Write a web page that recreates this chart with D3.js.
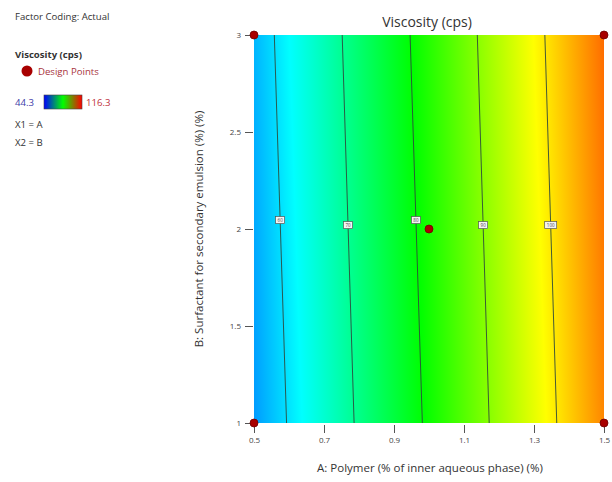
<!DOCTYPE html>
<html>
<head>
<meta charset="utf-8">
<script src="https://cdn.jsdelivr.net/npm/d3@7"></script>
<style>
  body { margin: 0; background: #fff; }
  svg text { font-family: "Open Sans", "Noto Sans", sans-serif; }
</style>
</head>
<body>
<div id="chart"></div>
<script>
// contour levels and where each line meets the top (B = 3) and bottom (B = 1) edge
const levels = [60, 70, 80, 90, 100];
const levelAtTop = [0.558, 0.752, 0.946, 1.138, 1.331];
const levelAtBottom = [0.593, 0.786, 0.981, 1.172, 1.365];
const labelB = [2.046, 2.02, 2.046, 2.02, 2.02];

// estimated surface values at the corners: [A, B, viscosity]
const cornerValues = [[0.5, 1, 55.2], [1.5, 1, 106.8], [0.5, 3, 57.1], [1.5, 3, 108.7]];

// design points
const designA = [0.5, 1.5, 0.5, 1.5, 1.0];
const designB = [1, 1, 3, 3, 2];

const colorMin = 44.3, colorMax = 116.3;
const xTicks = [0.5, 0.7, 0.9, 1.1, 1.3, 1.5];
const yTicks = [1, 1.5, 2, 2.5, 3];

const width = 612, height = 482;
const svg = d3.select("#chart").append("svg")
    .attr("width", width)
    .attr("height", height);

const x = d3.scaleLinear().domain([0.5, 1.5]).range([254, 604]);
const y = d3.scaleLinear().domain([1, 3]).range([423, 35]);

// rainbow used for the surface
const color = d3.scaleLinear()
    .domain(d3.range(5).map(i => colorMin + i * (colorMax - colorMin) / 4))
    .range(["#0000ff", "#00ffff", "#00ff00", "#ffff00", "#ff0000"]);

// linear gradient along the surface slope (surface is close to a plane)
const p00 = cornerValues[0], p10 = cornerValues[1], p01 = cornerValues[2];
const gx = (p10[2] - p00[2]) / (x(p10[0]) - x(p00[0]));
const gy = (p01[2] - p00[2]) / (y(p01[1]) - y(p00[1]));
const g2 = gx * gx + gy * gy;
const ox = x(p00[0]), oy = y(p00[1]);
const t0 = (colorMin - p00[2]) / g2, t1 = (colorMax - p00[2]) / g2;

const defs = svg.append("defs");
const grad = defs.append("linearGradient")
    .attr("id", "surf")
    .attr("gradientUnits", "userSpaceOnUse")
    .attr("x1", ox + t0 * gx).attr("y1", oy + t0 * gy)
    .attr("x2", ox + t1 * gx).attr("y2", oy + t1 * gy);
d3.range(0, 1.0001, 0.05).forEach(t => {
    grad.append("stop")
        .attr("offset", t)
        .attr("stop-color", color(colorMin + t * (colorMax - colorMin)));
});

svg.append("rect")
    .attr("x", x(0.5)).attr("y", y(3))
    .attr("width", x(1.5) - x(0.5))
    .attr("height", y(1) - y(3))
    .attr("fill", "url(#surf)");

// contour lines
svg.append("g")
    .selectAll("line")
    .data(levels)
    .join("line")
    .attr("x1", (d, i) => x(levelAtBottom[i]))
    .attr("y1", y(1))
    .attr("x2", (d, i) => x(levelAtTop[i]))
    .attr("y2", y(3))
    .attr("stroke", "#2e4a3c")
    .attr("stroke-width", 0.9);

// contour labels
const lab = svg.append("g")
    .selectAll("g")
    .data(levels)
    .join("g")
    .attr("transform", (d, i) => {
        const b = labelB[i];
        const a = levelAtBottom[i] + (levelAtTop[i] - levelAtBottom[i]) * (b - 1) / 2;
        return `translate(${x(a)},${y(b)})`;
    });
lab.append("rect")
    .attr("x", d => d >= 100 ? -6 : -4.5)
    .attr("y", -3.5)
    .attr("width", d => d >= 100 ? 12 : 9)
    .attr("height", 7)
    .attr("fill", "#f4f4f4")
    .attr("stroke", "#555")
    .attr("stroke-width", 0.7);
lab.append("text")
    .attr("text-anchor", "middle")
    .attr("dy", "0.35em")
    .attr("font-size", 4.5)
    .attr("fill", "#444")
    .text(d => d);

// axes
const xAxis = svg.append("g")
    .attr("transform", `translate(0,${y(1) + 2})`)
    .call(d3.axisBottom(x).tickValues(xTicks).tickSize(8).tickPadding(4).tickFormat(d3.format("")));
const yAxis = svg.append("g")
    .attr("transform", `translate(${x(0.5) - 1},0)`)
    .call(d3.axisLeft(y).tickValues(yTicks).tickSize(8).tickPadding(4).tickFormat(d3.format("")));
[xAxis, yAxis].forEach(g => {
    g.select(".domain").remove();
    g.selectAll(".tick line").attr("stroke", "#555");
    g.selectAll(".tick text").attr("fill", "#444").attr("font-size", 8)
        .style("font-family", "\"Open Sans\", sans-serif");
});

// design points
svg.append("g")
    .selectAll("circle")
    .data(designA)
    .join("circle")
    .attr("cx", d => x(d))
    .attr("cy", (d, i) => y(designB[i]))
    .attr("r", 4)
    .attr("fill", "#a80000")
    .attr("stroke", "#700000")
    .attr("stroke-width", 0.8);

// titles
svg.append("text")
    .attr("x", 427).attr("y", 27)
    .attr("text-anchor", "middle")
    .attr("font-size", 14)
    .attr("fill", "#333")
    .text("Viscosity (cps)");
svg.append("text")
    .attr("x", 430).attr("y", 472)
    .attr("text-anchor", "middle")
    .attr("font-size", 11.5)
    .attr("fill", "#333")
    .text("A: Polymer (% of inner aqueous phase) (%)");
svg.append("text")
    .attr("transform", `translate(203,${(y(1) + y(3)) / 2}) rotate(-90)`)
    .attr("text-anchor", "middle")
    .attr("font-size", 11.5)
    .attr("fill", "#333")
    .text("B: Surfactant for secondary emulsion (%) (%)");

// left legend panel
const leg = svg.append("g").attr("font-size", 9.6).attr("fill", "#333");
leg.append("text").attr("x", 15).attr("y", 20).text("Factor Coding: Actual");
leg.append("text").attr("x", 15).attr("y", 58).attr("font-weight", "bold").text("Viscosity (cps)");
leg.append("circle").attr("cx", 27).attr("cy", 71).attr("r", 5.5).attr("fill", "#a80000");
leg.append("text").attr("x", 38).attr("y", 74.5).attr("fill", "#a8323c").text("Design Points");

const legGrad = defs.append("linearGradient").attr("id", "legbar");
[["0%", "#0000ff"], ["50%", "#00ff00"], ["100%", "#ff0000"]].forEach(([o, c]) =>
    legGrad.append("stop").attr("offset", o).attr("stop-color", c));
leg.append("rect").attr("x", 44).attr("y", 95).attr("width", 38).attr("height", 14)
    .attr("fill", "url(#legbar)").attr("stroke", "#444").attr("stroke-width", 0.6);
leg.append("text").attr("x", 15).attr("y", 105.5).attr("fill", "#4040a8").text(colorMin);
leg.append("text").attr("x", 86).attr("y", 105.5).attr("fill", "#c0303a").text(colorMax);
leg.append("text").attr("x", 15).attr("y", 128).text("X1 = A");
leg.append("text").attr("x", 15).attr("y", 146).text("X2 = B");
</script>
</body>
</html>
